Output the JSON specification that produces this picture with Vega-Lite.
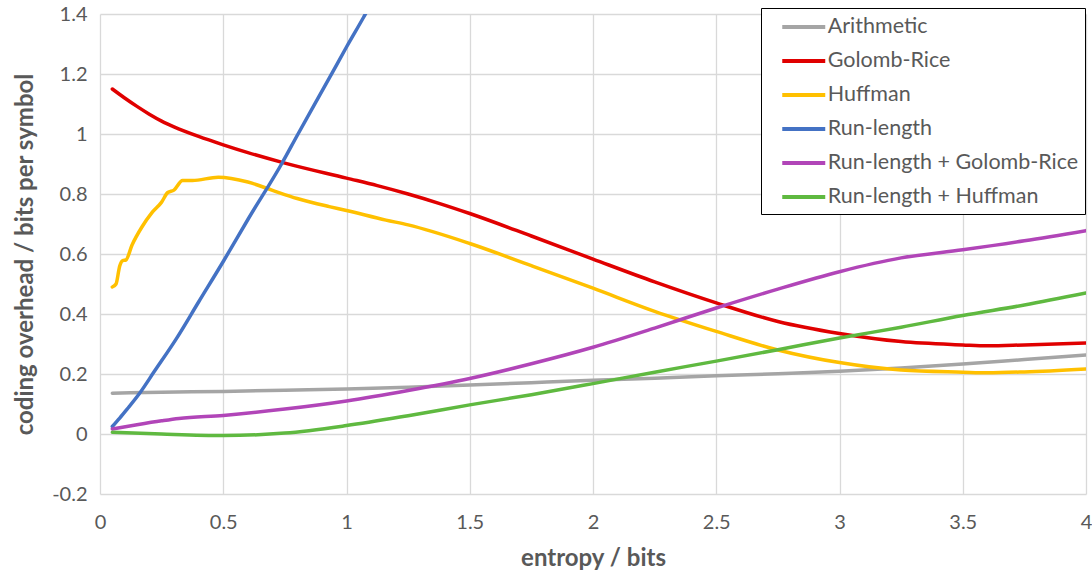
{
  "$schema": "https://vega.github.io/schema/vega-lite/v6.json",
  "width": 986,
  "height": 480,
  "autosize": "none",
  "padding": {"left": 100, "top": 14, "right": 6, "bottom": 85},
  "background": "white",
  "config": {
    "view": {"stroke": null},
    "font": "Lato",
    "axis": {
      "gridColor": "#D9D9D9",
      "gridWidth": 1.3,
      "domain": false,
      "ticks": false,
      "labelColor": "#595959",
      "labelFont": "Lato",
      "labelFontSize": 20,
      "titleColor": "#595959",
      "titleFont": "Lato",
      "titleFontSize": 24,
      "titleFontWeight": "bold"
    },
    "legend": {
      "labelFont": "Lato",
      "labelFontSize": 21.5,
      "labelColor": "#595959"
    }
  },
  "data": {
    "values": [
      {"s": "Arithmetic", "x": 0.05, "y": 0.136},
      {"s": "Arithmetic", "x": 0.25, "y": 0.139},
      {"s": "Arithmetic", "x": 0.5, "y": 0.142},
      {"s": "Arithmetic", "x": 0.75, "y": 0.146},
      {"s": "Arithmetic", "x": 1.0, "y": 0.15},
      {"s": "Arithmetic", "x": 1.25, "y": 0.156},
      {"s": "Arithmetic", "x": 1.5, "y": 0.163},
      {"s": "Arithmetic", "x": 1.75, "y": 0.171},
      {"s": "Arithmetic", "x": 2.0, "y": 0.179},
      {"s": "Arithmetic", "x": 2.25, "y": 0.186},
      {"s": "Arithmetic", "x": 2.5, "y": 0.194},
      {"s": "Arithmetic", "x": 2.75, "y": 0.201},
      {"s": "Arithmetic", "x": 3.0, "y": 0.209},
      {"s": "Arithmetic", "x": 3.25, "y": 0.22},
      {"s": "Arithmetic", "x": 3.5, "y": 0.233},
      {"s": "Arithmetic", "x": 3.75, "y": 0.248},
      {"s": "Arithmetic", "x": 4.0, "y": 0.263},

      {"s": "Golomb-Rice", "x": 0.05, "y": 1.15},
      {"s": "Golomb-Rice", "x": 0.1, "y": 1.12},
      {"s": "Golomb-Rice", "x": 0.15, "y": 1.092},
      {"s": "Golomb-Rice", "x": 0.2, "y": 1.066},
      {"s": "Golomb-Rice", "x": 0.25, "y": 1.043},
      {"s": "Golomb-Rice", "x": 0.3, "y": 1.024},
      {"s": "Golomb-Rice", "x": 0.4, "y": 0.992},
      {"s": "Golomb-Rice", "x": 0.5, "y": 0.964},
      {"s": "Golomb-Rice", "x": 0.6, "y": 0.938},
      {"s": "Golomb-Rice", "x": 0.75, "y": 0.903},
      {"s": "Golomb-Rice", "x": 1.0, "y": 0.853},
      {"s": "Golomb-Rice", "x": 1.125, "y": 0.828},
      {"s": "Golomb-Rice", "x": 1.25, "y": 0.8},
      {"s": "Golomb-Rice", "x": 1.375, "y": 0.769},
      {"s": "Golomb-Rice", "x": 1.5, "y": 0.735},
      {"s": "Golomb-Rice", "x": 1.75, "y": 0.66},
      {"s": "Golomb-Rice", "x": 2.0, "y": 0.583},
      {"s": "Golomb-Rice", "x": 2.25, "y": 0.507},
      {"s": "Golomb-Rice", "x": 2.5, "y": 0.437},
      {"s": "Golomb-Rice", "x": 2.75, "y": 0.375},
      {"s": "Golomb-Rice", "x": 3.0, "y": 0.335},
      {"s": "Golomb-Rice", "x": 3.25, "y": 0.308},
      {"s": "Golomb-Rice", "x": 3.5, "y": 0.297},
      {"s": "Golomb-Rice", "x": 3.6, "y": 0.294},
      {"s": "Golomb-Rice", "x": 3.75, "y": 0.297},
      {"s": "Golomb-Rice", "x": 4.0, "y": 0.303},

      {"s": "Huffman", "x": 0.05, "y": 0.49},
      {"s": "Huffman", "x": 0.065, "y": 0.5},
      {"s": "Huffman", "x": 0.08, "y": 0.56},
      {"s": "Huffman", "x": 0.092, "y": 0.578},
      {"s": "Huffman", "x": 0.105, "y": 0.58},
      {"s": "Huffman", "x": 0.13, "y": 0.63},
      {"s": "Huffman", "x": 0.17, "y": 0.69},
      {"s": "Huffman", "x": 0.21, "y": 0.737},
      {"s": "Huffman", "x": 0.25, "y": 0.773},
      {"s": "Huffman", "x": 0.275, "y": 0.805},
      {"s": "Huffman", "x": 0.3, "y": 0.813},
      {"s": "Huffman", "x": 0.335, "y": 0.845},
      {"s": "Huffman", "x": 0.375, "y": 0.845},
      {"s": "Huffman", "x": 0.48, "y": 0.856},
      {"s": "Huffman", "x": 0.6, "y": 0.84},
      {"s": "Huffman", "x": 0.7, "y": 0.812},
      {"s": "Huffman", "x": 0.8, "y": 0.785},
      {"s": "Huffman", "x": 0.93, "y": 0.758},
      {"s": "Huffman", "x": 1.0, "y": 0.745},
      {"s": "Huffman", "x": 1.16, "y": 0.713},
      {"s": "Huffman", "x": 1.25, "y": 0.697},
      {"s": "Huffman", "x": 1.5, "y": 0.635},
      {"s": "Huffman", "x": 1.75, "y": 0.561},
      {"s": "Huffman", "x": 2.0, "y": 0.486},
      {"s": "Huffman", "x": 2.25, "y": 0.409},
      {"s": "Huffman", "x": 2.5, "y": 0.342},
      {"s": "Huffman", "x": 2.75, "y": 0.28},
      {"s": "Huffman", "x": 3.0, "y": 0.238},
      {"s": "Huffman", "x": 3.25, "y": 0.213},
      {"s": "Huffman", "x": 3.5, "y": 0.206},
      {"s": "Huffman", "x": 3.6, "y": 0.204},
      {"s": "Huffman", "x": 3.75, "y": 0.207},
      {"s": "Huffman", "x": 4.0, "y": 0.217},

      {"s": "Run-length", "x": 0.05, "y": 0.025},
      {"s": "Run-length", "x": 0.08, "y": 0.053},
      {"s": "Run-length", "x": 0.11, "y": 0.083},
      {"s": "Run-length", "x": 0.16, "y": 0.135},
      {"s": "Run-length", "x": 0.22, "y": 0.208},
      {"s": "Run-length", "x": 0.31, "y": 0.318},
      {"s": "Run-length", "x": 0.4, "y": 0.44},
      {"s": "Run-length", "x": 0.5, "y": 0.575},
      {"s": "Run-length", "x": 0.6, "y": 0.715},
      {"s": "Run-length", "x": 0.74, "y": 0.905},
      {"s": "Run-length", "x": 0.8, "y": 0.995},
      {"s": "Run-length", "x": 0.93, "y": 1.186},
      {"s": "Run-length", "x": 1.0, "y": 1.29},
      {"s": "Run-length", "x": 1.07, "y": 1.39},
      {"s": "Run-length", "x": 1.15, "y": 1.51},

      {"s": "Run-length + Golomb-Rice", "x": 0.05, "y": 0.017},
      {"s": "Run-length + Golomb-Rice", "x": 0.15, "y": 0.031},
      {"s": "Run-length + Golomb-Rice", "x": 0.25, "y": 0.044},
      {"s": "Run-length + Golomb-Rice", "x": 0.32, "y": 0.052},
      {"s": "Run-length + Golomb-Rice", "x": 0.5, "y": 0.062},
      {"s": "Run-length + Golomb-Rice", "x": 0.75, "y": 0.083},
      {"s": "Run-length + Golomb-Rice", "x": 1.0, "y": 0.11},
      {"s": "Run-length + Golomb-Rice", "x": 1.25, "y": 0.145},
      {"s": "Run-length + Golomb-Rice", "x": 1.5, "y": 0.185},
      {"s": "Run-length + Golomb-Rice", "x": 1.75, "y": 0.234},
      {"s": "Run-length + Golomb-Rice", "x": 2.0, "y": 0.289},
      {"s": "Run-length + Golomb-Rice", "x": 2.25, "y": 0.353},
      {"s": "Run-length + Golomb-Rice", "x": 2.5, "y": 0.42},
      {"s": "Run-length + Golomb-Rice", "x": 2.75, "y": 0.483},
      {"s": "Run-length + Golomb-Rice", "x": 3.0, "y": 0.541},
      {"s": "Run-length + Golomb-Rice", "x": 3.25, "y": 0.587},
      {"s": "Run-length + Golomb-Rice", "x": 3.5, "y": 0.614},
      {"s": "Run-length + Golomb-Rice", "x": 3.75, "y": 0.644},
      {"s": "Run-length + Golomb-Rice", "x": 4.0, "y": 0.678},

      {"s": "Run-length + Huffman", "x": 0.05, "y": 0.006},
      {"s": "Run-length + Huffman", "x": 0.25, "y": 0.0},
      {"s": "Run-length + Huffman", "x": 0.5, "y": -0.005},
      {"s": "Run-length + Huffman", "x": 0.75, "y": 0.003},
      {"s": "Run-length + Huffman", "x": 1.0, "y": 0.028},
      {"s": "Run-length + Huffman", "x": 1.25, "y": 0.061},
      {"s": "Run-length + Huffman", "x": 1.5, "y": 0.097},
      {"s": "Run-length + Huffman", "x": 1.75, "y": 0.131},
      {"s": "Run-length + Huffman", "x": 2.0, "y": 0.168},
      {"s": "Run-length + Huffman", "x": 2.25, "y": 0.206},
      {"s": "Run-length + Huffman", "x": 2.5, "y": 0.243},
      {"s": "Run-length + Huffman", "x": 2.75, "y": 0.281},
      {"s": "Run-length + Huffman", "x": 3.0, "y": 0.32},
      {"s": "Run-length + Huffman", "x": 3.25, "y": 0.356},
      {"s": "Run-length + Huffman", "x": 3.5, "y": 0.395},
      {"s": "Run-length + Huffman", "x": 3.75, "y": 0.43},
      {"s": "Run-length + Huffman", "x": 4.0, "y": 0.47}
    ]
  },
  "mark": {"type": "line", "strokeWidth": 3.5, "clip": true, "interpolate": "monotone", "strokeCap": "round"},
  "encoding": {
    "x": {
      "field": "x", "type": "quantitative",
      "title": "entropy / bits",
      "scale": {"domain": [0, 4], "nice": false, "zero": false},
      "axis": {"values": [0, 0.5, 1, 1.5, 2, 2.5, 3, 3.5, 4], "labelExpr": "datum.value + ''", "labelPadding": 18, "titlePadding": 14, "labelFlush": false}
    },
    "y": {
      "field": "y", "type": "quantitative",
      "title": "coding overhead / bits per symbol",
      "scale": {"domain": [-0.2, 1.4], "nice": false, "zero": false},
      "axis": {"values": [-0.2, 0, 0.2, 0.4, 0.6, 0.8, 1, 1.2, 1.4], "labelExpr": "datum.value + ''", "labelPadding": 13, "titlePadding": 14}
    },
    "color": {
      "field": "s", "type": "nominal", "title": null,
      "scale": {
        "domain": ["Arithmetic", "Golomb-Rice", "Huffman", "Run-length", "Run-length + Golomb-Rice", "Run-length + Huffman"],
        "range": ["#A5A5A5", "#E00000", "#FFC000", "#4472C4", "#B145B8", "#5FB940"]
      },
      "legend": {
        "orient": "none",
        "legendX": 661,
        "legendY": -6,
        "strokeColor": "black",
        "fillColor": "white",
        "padding": 6,
        "symbolType": "M-2,0H2",
        "symbolSize": 462,
        "symbolStrokeWidth": 4,
        "symbolOffset": 23.75,
        "labelOffset": 11,
        "rowPadding": 10,
        "labelLimit": 400
      }
    }
  }
}
